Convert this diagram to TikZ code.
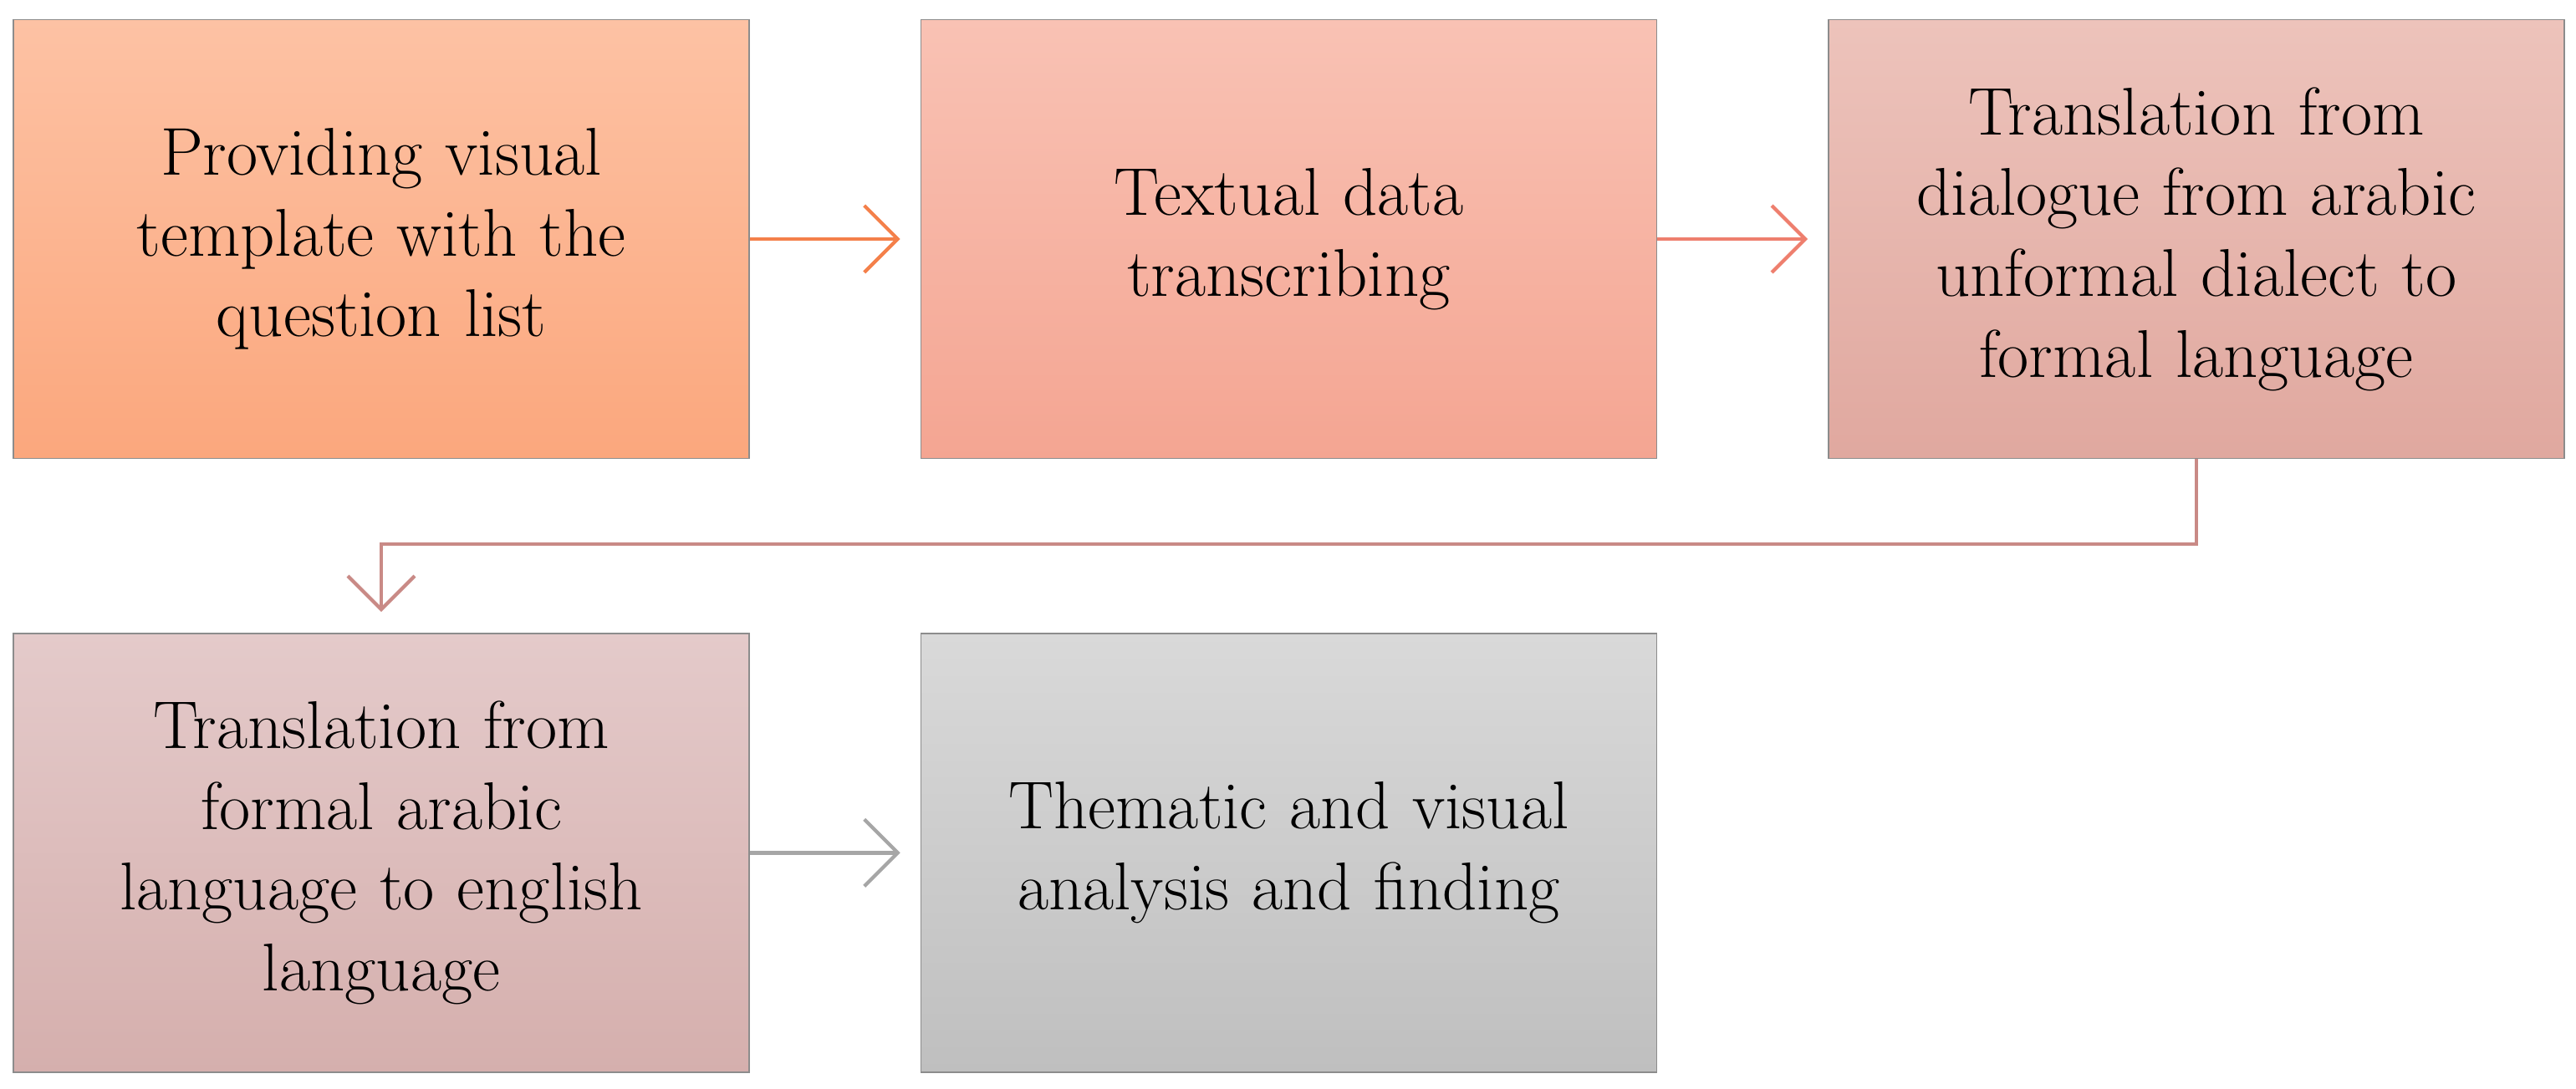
\documentclass[tikz,border=0pt]{standalone}
\usetikzlibrary{arrows.meta,positioning}
\definecolor{stepA1}{HTML}{FDC2A4}\definecolor{stepA2}{HTML}{FBA77D}
\definecolor{stepB1}{HTML}{F9C2B4}\definecolor{stepB2}{HTML}{F4A592}
\definecolor{stepC1}{HTML}{EDC3BB}\definecolor{stepC2}{HTML}{E0A89F}
\definecolor{stepD1}{HTML}{E4CACA}\definecolor{stepD2}{HTML}{D5AFAD}
\definecolor{stepE1}{HTML}{D9D9D9}\definecolor{stepE2}{HTML}{BFBFBF}
\definecolor{arrA}{HTML}{F4804A}\definecolor{arrB}{HTML}{EE7F6E}
\definecolor{arrC}{HTML}{C98A86}\definecolor{arrD}{HTML}{A6A6A6}
\tikzset{
  >={Straight Barb[length=4mm,width=8mm]},
  stage/.style={
    rectangle,
    draw=black!45, thin,
    minimum width=8.8cm,
    minimum height=5.25cm,
    text width=8cm,
    align=center,
    font=\fontsize{23}{27.5}\selectfont},
  link/.style={->, line width=1.2pt},
}
\begin{document}
\begin{tikzpicture}
\useasboundingbox (0,0) rectangle (30.81,13.02);
\node[stage, top color=stepA1, bottom color=stepA2] (provide) at (4.56,10.16)
  {Providing visual\\ template with the\\ question list};
\node[stage, top color=stepB1, bottom color=stepB2, right=2.04cm of provide] (transcribe)
  {Textual data\\ transcribing};
\node[stage, top color=stepC1, bottom color=stepC2, right=2.04cm of transcribe] (dialect)
  {Translation from\\ dialogue from arabic\\ unformal dialect to\\ formal language};
\node[stage, top color=stepD1, bottom color=stepD2, below=2.08cm of provide] (english)
  {Translation from\\ formal arabic\\ language to english\\ language};
\node[stage, top color=stepE1, bottom color=stepE2, right=2.04cm of english] (analysis)
  {Thematic and visual\\ analysis and finding};
% connectors
\draw[link, arrA] (provide.east) -- ++(1.8,0) coordinate (p1);
\draw[link, arrB] (transcribe.east) -- ++(1.8,0) coordinate (p2);
\draw[link, arrC] (dialect.south) -- ++(0,-1.02) -| ([yshift=0.25cm]english.north);
\draw[link, arrD] (english.east) -- ++(1.8,0) coordinate (p3);
\end{tikzpicture}
\end{document}
